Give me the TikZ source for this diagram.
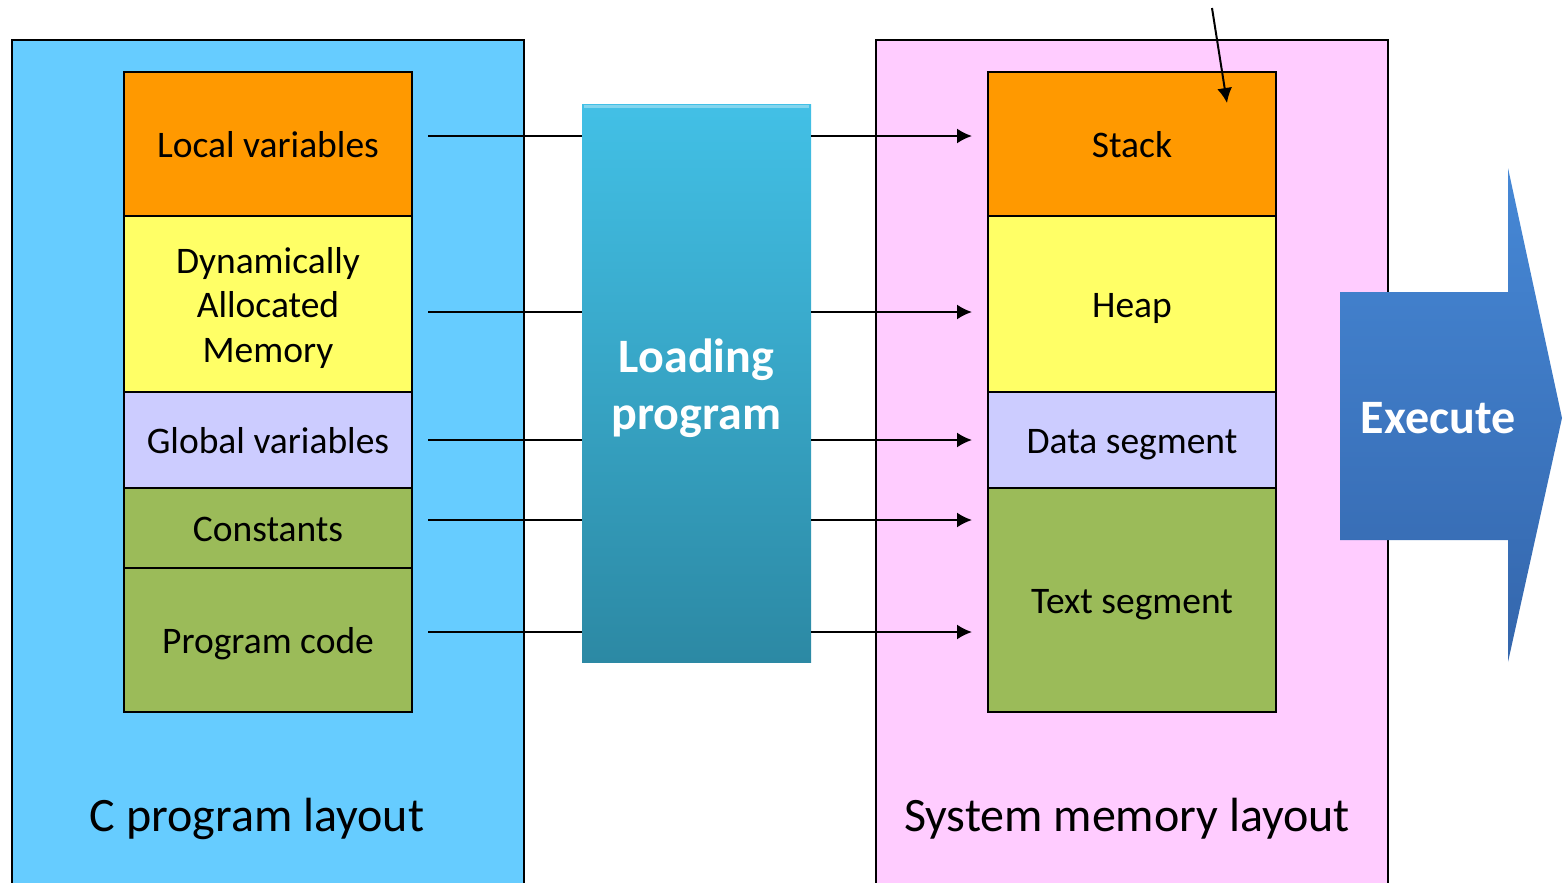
\documentclass[tikz,border=0pt]{standalone}
\usepackage{fontspec}
\setmainfont{Carlito}
\usetikzlibrary{positioning,arrows.meta}
\definecolor{progblue}{HTML}{66CCFF}
\definecolor{mempink}{HTML}{FFCCFF}
\definecolor{segorange}{HTML}{FF9900}
\definecolor{segyellow}{HTML}{FFFF66}
\definecolor{seglav}{HTML}{CCCCFF}
\definecolor{seggreen}{HTML}{9BBB59}
\definecolor{loadtop}{HTML}{42C0E6}
\definecolor{loadbot}{HTML}{2C89A4}
\definecolor{exectop}{HTML}{4688D6}
\definecolor{execbot}{HTML}{3466AC}
\tikzset{
  seg/.style={draw, line width=2pt, inner sep=0pt, outer sep=0pt,
    minimum width=288pt, align=center, text height=34pt, text depth=7pt,
    font=\fontsize{37.5}{44.5}\selectfont},
  caption/.style={font=\fontsize{48}{56}\selectfont},
  bigword/.style={text=white, align=center, font=\fontsize{48}{57}\selectfont\bfseries},
  link/.style={line width=2pt, -{Latex[length=15pt, width=15pt]}}
}
\begin{document}
\begin{tikzpicture}[x=1pt, y=-1pt, node distance=0pt]
  \useasboundingbox (0,0) rectangle (1564,883);
  \clip (0,0) rectangle (1564,883);
  % the two layouts
  \draw[fill=progblue, line width=2pt] (12,40) rectangle (524,900);
  \draw[fill=mempink, line width=2pt] (876,40) rectangle (1388,900);
  \node[caption] (cap) at (257,819) {C program layout};
  \node[caption] (sys) at (1127,819) {System memory layout};
  % C program
  \node[seg, fill=segorange, minimum height=144pt, anchor=north] (loc) at (268,72) {Local variables};
  \node[seg, fill=segyellow, minimum height=176pt, text height=123pt, below=of loc] (dyn) {Dynamically\\Allocated\\Memory};
  \node[seg, fill=seglav, minimum height=96pt, below=of dyn] (glob) {Global variables};
  \node[seg, fill=seggreen, minimum height=80pt, below=of glob] (const) {Constants};
  \node[seg, fill=seggreen, minimum height=144pt, below=of const] (code) {Program code};
  % memory
  \node[seg, fill=segorange, minimum height=144pt, anchor=north] (stack) at (1132,72) {Stack};
  \node[seg, fill=segyellow, minimum height=176pt, below=of stack] (heap) {Heap};
  \node[seg, fill=seglav, minimum height=96pt, below=of heap] (data) {Data segment};
  \node[seg, fill=seggreen, minimum height=224pt, below=of data] (text) {Text segment};
  % loader
  \shade[top color=loadtop, bottom color=loadbot] (582,104) rectangle (811,662);
  \draw[white, opacity=.35, line width=3pt] (584,106) -- (809,106);
  \node[bigword, minimum width=229pt, minimum height=558pt] (load) at (696.5,388) {Loading\\program};
  \foreach \y [count=\i] in {136,312,440,520,632} {
    \coordinate (l\i) at (428,\y);
    \coordinate (r\i) at (972,\y);
    \draw[line width=2pt] (l\i) -- (load.west |- l\i);
    \draw[link] (load.east |- r\i) -- (r\i);
  }
  \coordinate (sp) at (1212,8);
  \coordinate (spend) at (1227,103);
  \draw[link] (sp) -- (spend);
  % execute
  \shade[top color=exectop, bottom color=execbot] (1340,292) -- (1508,292) -- (1508,168)
    -- (1562,418) -- (1508,662) -- (1508,540) -- (1340,540) -- cycle;
  \node[bigword] (exec) at (1438,418) {Execute};
\end{tikzpicture}
\end{document}
